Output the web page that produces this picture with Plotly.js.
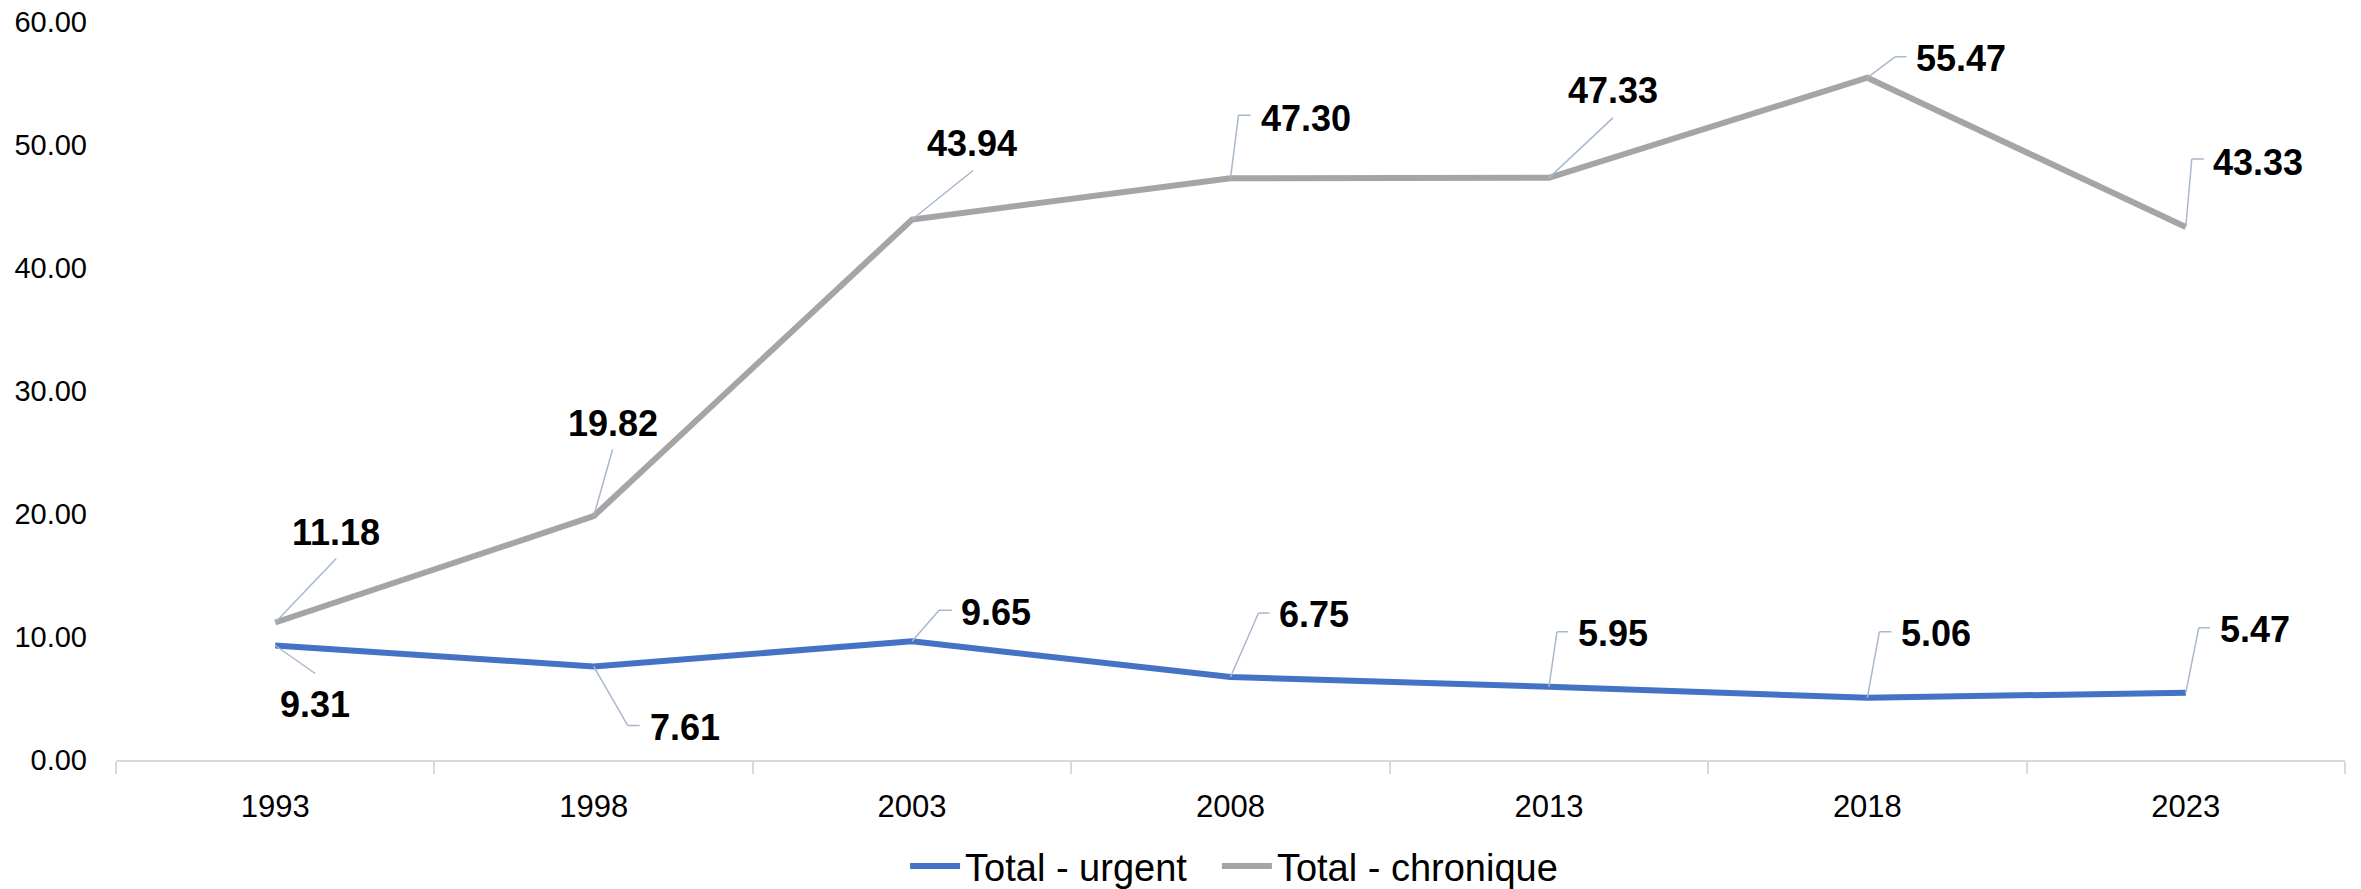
<!DOCTYPE html>
<html>
<head>
<meta charset="utf-8">
<script src="https://cdn.plot.ly/plotly-3.0.1.min.js"></script>
<style>
  html, body { margin: 0; padding: 0; background: #ffffff; }
  #chart { width: 2361px; height: 889px; }
</style>
</head>
<body>
<div id="chart"></div>
<script>
// ---- data ----
const years = ['1993', '1998', '2003', '2008', '2013', '2018', '2023'];
const urgent = [9.31, 7.61, 9.65, 6.75, 5.95, 5.06, 5.47];
const chronique = [11.18, 19.82, 43.94, 47.30, 47.33, 55.47, 43.33];
const seriesNames = ['Total - urgent', 'Total - chronique'];

// ---- label placement (pixel offsets from each point; styling only) ----
// straight: leader end [dx,dy], label centre [dx,dy]
// elbow: elbow corner [dx,dy], horizontal length, label left/centre [dx,dy]
const urgentLabelPos = [
  {kind: 'straight', end: [40, 28], at: [40, 59]},
  {kind: 'elbow', corner: [34, 59], h: 12, at: [56, 61]},
  {kind: 'elbow', corner: [27, -31], h: 13, at: [49, -29]},
  {kind: 'elbow', corner: [28, -64], h: 11, at: [48, -62]},
  {kind: 'elbow', corner: [8, -55], h: 11, at: [29, -53]},
  {kind: 'elbow', corner: [12, -66], h: 12, at: [34, -64]},
  {kind: 'elbow', corner: [13, -65], h: 11, at: [34, -63]}
];
const chroniqueLabelPos = [
  {kind: 'straight', end: [61, -64], at: [61, -90]},
  {kind: 'straight', end: [19, -67], at: [19, -93]},
  {kind: 'straight', end: [61, -49], at: [60, -76]},
  {kind: 'elbow', corner: [8, -63], h: 12, at: [30, -60]},
  {kind: 'straight', end: [64, -60], at: [64, -87]},
  {kind: 'elbow', corner: [28, -21], h: 11, at: [49, -19]},
  {kind: 'elbow', corner: [6, -68], h: 12, at: [27, -65]}
];

const FONT = '"Liberation Sans", Arial, sans-serif';
const LEADER = '#A9B8CC';
const colors = ['#4472C4', '#A5A5A5'];
const legendIds = ['legend', 'legend2'];

const traces = [urgent, chronique].map((vals, k) => ({
  type: 'scatter',
  mode: 'lines',
  name: seriesNames[k],
  legend: legendIds[k],
  x: years,
  y: vals,
  line: {color: colors[k], width: 6},
  hoverinfo: 'skip'
}));

function buildAnnotations(vals, pos) {
  const out = [];
  vals.forEach((v, i) => {
    const p = pos[i];
    const label = v.toFixed(2);
    const base = {xref: 'x', yref: 'y', x: i, y: v};
    const leader = {
      text: ' ', font: {size: 1}, showarrow: true, arrowhead: 0,
      arrowwidth: 1.5, arrowcolor: LEADER, standoff: 0, startstandoff: 0,
      borderpad: 0, borderwidth: 0
    };
    const txt = {
      text: label, showarrow: false, yanchor: 'middle',
      borderpad: 0, borderwidth: 0,
      font: {family: FONT, size: 36, color: '#000000', weight: 'bold'}
    };
    if (p.kind === 'straight') {
      out.push(Object.assign({}, base, leader, {ax: p.end[0], ay: p.end[1]}));
      out.push(Object.assign({}, base, txt, {
        xanchor: 'center', xshift: p.at[0], yshift: -p.at[1]
      }));
    } else {
      out.push(Object.assign({}, base, leader, {ax: p.corner[0], ay: p.corner[1]}));
      out.push(Object.assign({}, base, leader, {
        xshift: p.corner[0], yshift: -p.corner[1], ax: p.h, ay: 0
      }));
      out.push(Object.assign({}, base, txt, {
        xanchor: 'left', xshift: p.at[0], yshift: -p.at[1]
      }));
    }
  });
  return out;
}

const annotations = buildAnnotations(urgent, urgentLabelPos)
  .concat(buildAnnotations(chronique, chroniqueLabelPos));

function legendAt(x) {
  return {
    orientation: 'h',
    x: x, xanchor: 'left',
    y: -0.144, yanchor: 'middle',
    font: {family: FONT, size: 38, color: '#000000'},
    itemwidth: 50,
    bgcolor: 'rgba(0,0,0,0)'
  };
}

const layout = {
  width: 2361,
  height: 889,
  autosize: false,
  paper_bgcolor: '#ffffff',
  plot_bgcolor: '#ffffff',
  margin: {l: 116, r: 16, t: 22, b: 129, pad: 0, autoexpand: false},
  font: {family: FONT, color: '#000000'},
  showlegend: true,
  legend: legendAt(0.354),
  legend2: legendAt(0.4939),
  xaxis: {
    type: 'category',
    range: [-0.5, 6.5],
    tickson: 'boundaries',
    ticks: 'outside',
    ticklen: 12,
    tickwidth: 2,
    tickcolor: '#D9D9D9',
    showline: true,
    linecolor: '#D9D9D9',
    linewidth: 2,
    showgrid: false,
    zeroline: false,
    tickfont: {family: FONT, size: 31, color: '#000000'},
    ticklabelstandoff: 18,
    fixedrange: true
  },
  yaxis: {
    range: [0, 60],
    dtick: 10,
    tick0: 0,
    tickformat: '.2f',
    showgrid: false,
    zeroline: false,
    showline: false,
    ticks: '',
    tickfont: {family: FONT, size: 29, color: '#000000'},
    ticklabelstandoff: 28,
    fixedrange: true
  },
  annotations: annotations
};

Plotly.newPlot('chart', traces, layout, {displayModeBar: false, staticPlot: true});
</script>
</body>
</html>
